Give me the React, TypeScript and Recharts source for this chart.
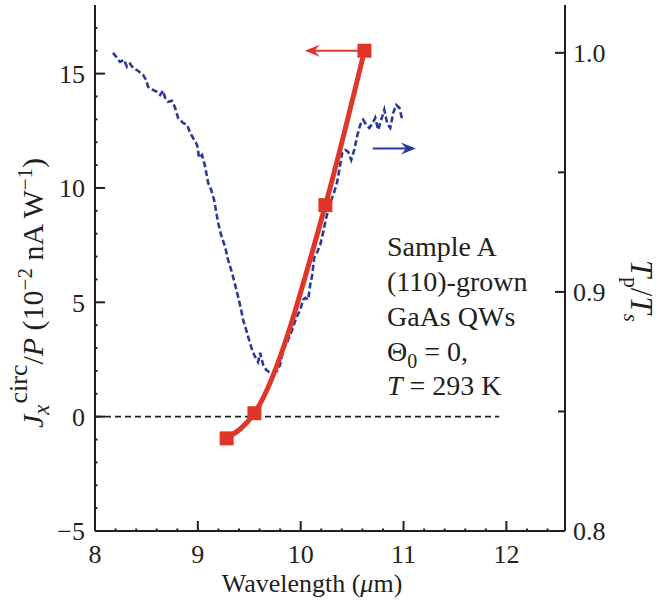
import React from "react";
import {
  ComposedChart,
  Line,
  XAxis,
  YAxis,
  ReferenceLine,
} from "recharts";

const ink = "#231f20";
const red = "#e0362a";
const blue = "#2b3a9a";
const serif = "'Liberation Serif', 'Times New Roman', serif";

// photocurrent points (left axis)
const jWavelength = [9.28, 9.55, 10.24, 10.62];
const jValue = [-0.95, 0.15, 9.25, 16.0];

// transmission ratio trace (right axis)
const tWavelength = [
  8.175, 8.214, 8.243, 8.282, 8.311, 8.341, 8.37, 8.418, 8.467, 8.496, 8.516, 8.564, 8.603, 8.633,
  8.662, 8.681, 8.71, 8.749, 8.779, 8.808, 8.856, 8.895, 8.925, 8.964, 8.993, 9.012, 9.041, 9.071,
  9.1, 9.129, 9.158, 9.197, 9.226, 9.265, 9.294, 9.333, 9.363, 9.392, 9.421, 9.44, 9.47, 9.489,
  9.528, 9.557, 9.586, 9.606, 9.635, 9.664, 9.693, 9.732, 9.771, 9.8, 9.83, 9.869, 9.917, 9.956,
  9.995, 10.024, 10.044, 10.073, 10.092, 10.112, 10.131, 10.161, 10.19, 10.219, 10.248, 10.287,
  10.326, 10.355, 10.384, 10.404, 10.433, 10.462, 10.491, 10.521, 10.55, 10.579, 10.608, 10.637,
  10.667, 10.696, 10.725, 10.754, 10.783, 10.813, 10.842, 10.871, 10.9, 10.929, 10.959, 10.988,
];
const tRatio = [
  1.0, 0.9979, 0.9962, 0.9971, 0.9941, 0.9954, 0.9937, 0.9925, 0.9908, 0.9887, 0.9858, 0.9845, 0.9837, 0.9824,
  0.9842, 0.9812, 0.9795, 0.9799, 0.977, 0.9728, 0.9707, 0.9699, 0.9665, 0.9636, 0.9615, 0.9561, 0.9573, 0.9523,
  0.9456, 0.9427, 0.9385, 0.9289, 0.9238, 0.9188, 0.9134, 0.9079, 0.9029, 0.8979, 0.8925, 0.8883, 0.8841, 0.8812,
  0.8757, 0.8728, 0.8707, 0.8745, 0.8695, 0.8674, 0.8665, 0.8661, 0.8669, 0.8695, 0.8757, 0.8791, 0.8841, 0.8891,
  0.8925, 0.8967, 0.8975, 0.8967, 0.9029, 0.9071, 0.9142, 0.9167, 0.9197, 0.9251, 0.931, 0.9372,
  0.9418, 0.946, 0.9531, 0.9582, 0.9594, 0.9586, 0.9552, 0.9594, 0.9653, 0.9699, 0.972, 0.9699,
  0.9686, 0.9703, 0.9728, 0.9678, 0.972, 0.9762, 0.9703, 0.9686, 0.9749, 0.9782, 0.977, 0.972,
];

const xTicks = [8, 8.2, 8.4, 8.6, 8.8, 9, 9.2, 9.4, 9.6, 9.8, 10, 10.2, 10.4, 10.6, 10.8, 11, 11.2, 11.4, 11.6, 11.8, 12, 12.2, 12.4];
const leftTicks = [-5, -4, -3, -2, -1, 0, 1, 2, 3, 4, 5, 6, 7, 8, 9, 10, 11, 12, 13, 14, 15, 16, 17];
const rightTicks = [0.8, 0.85, 0.9, 0.95, 1.0];

const jData = jWavelength.map((x, i) => ({ x, j: jValue[i] }));
const tData = tWavelength.map((x, i) => ({ x, t: tRatio[i] }));

const isInt = (v: number) => Math.abs(v - Math.round(v)) < 1e-6;

const tickText = { fontFamily: serif, fontSize: 26, fill: ink };

const BottomTick = ({ x, y, payload }: any) => {
  const major = isInt(payload.value);
  return (
    <g>
      <line x1={x} x2={x} y1={y} y2={y - (major ? 10 : 2.5)} stroke={ink} strokeWidth={2} />
      {major && (
        <text x={x} y={y + 32} textAnchor="middle" {...tickText}>
          {Math.round(payload.value)}
        </text>
      )}
    </g>
  );
};

const TopTick = ({ x, y }: any) => (
  <line x1={x} x2={x} y1={y} y2={y + 2.5} stroke={ink} strokeWidth={2} />
);

const LeftTick = ({ x, y, payload }: any) => {
  const v = payload.value;
  const major = v % 5 === 0;
  return (
    <g>
      <line x1={x} x2={x + (major ? 10 : 2.5)} y1={y} y2={y} stroke={ink} strokeWidth={2} />
      {major && (
        <text x={x - 10} y={y} dy="0.36em" textAnchor="end" {...tickText}>
          {v < 0 ? `\u2212${-v}` : v}
        </text>
      )}
    </g>
  );
};

const RightTick = ({ x, y, payload }: any) => {
  const v = payload.value;
  const major = Math.abs(v * 10 - Math.round(v * 10)) < 1e-6;
  return (
    <g>
      <line x1={x} x2={x - (major ? 10 : 7)} y1={y} y2={y} stroke={ink} strokeWidth={2} />
      {major && (
        <text x={x + 8} y={y} dy="0.36em" textAnchor="start" {...tickText}>
          {v.toFixed(1)}
        </text>
      )}
    </g>
  );
};

const SquareDot = ({ cx, cy }: any) => (
  <rect x={cx - 7} y={cy - 7} width={14} height={14} fill={red} />
);

const arrowShape = (color: string) => (props: any) => {
  const { x1, y1, x2, y2 } = props;
  const dir = x2 > x1 ? 1 : -1;
  const len = 15;
  return (
    <g>
      <line x1={x1} y1={y1} x2={x2 - dir * len * 0.6} y2={y2} stroke={color} strokeWidth={2} />
      <polygon
        points={`${x2},${y2} ${x2 - dir * len},${y2 - 6} ${x2 - dir * len * 0.65},${y2} ${x2 - dir * len},${y2 + 6}`}
        fill={color}
      />
    </g>
  );
};

const labelStyle = { fontFamily: serif, fontSize: 26, fill: ink };
const noteStyle = { fontFamily: serif, fontSize: 28, fill: ink };

function Labels() {
  return (
    <svg
      width={658}
      height={606}
      style={{ position: "absolute", left: 0, top: 0, pointerEvents: "none" }}
    >
      {/* left axis title */}
      <text transform="translate(43,293) rotate(-90)" textAnchor="middle" fontFamily={serif} fontSize={30} fill={ink}>
        <tspan fontStyle="italic">J</tspan>
        <tspan fontStyle="italic" fontSize={23} dy={6}>x</tspan>
        <tspan fontSize={26} dy={-22} dx={1}>circ</tspan>
        <tspan dy={16}>/</tspan>
        <tspan fontStyle="italic">P</tspan>
        <tspan> (10</tspan>
        <tspan fontSize={21} dy={-11}>{"\u22122"}</tspan>
        <tspan dy={11}> nA W</tspan>
        <tspan fontSize={21} dy={-11}>{"\u22121"}</tspan>
        <tspan dy={11}>)</tspan>
      </text>
      {/* right axis title */}
      <text transform="translate(631,291) rotate(90)" textAnchor="middle" fontFamily={serif} fontSize={31} fill={ink}>
        <tspan fontStyle="italic">T</tspan>
        <tspan fontSize={21} dy={7}>p</tspan>
        <tspan dy={-7}>/</tspan>
        <tspan fontStyle="italic">T</tspan>
        <tspan fontStyle="italic" fontSize={21} dy={7}>s</tspan>
      </text>
      {/* x axis title */}
      <text x={312} y={592} textAnchor="middle" {...labelStyle}>
        Wavelength (<tspan fontStyle="italic">{"\u03bc"}</tspan>m)
      </text>
      {/* sample annotation */}
      <g {...noteStyle}>
        <text x={387} y={256}>Sample A</text>
        <text x={387} y={291}>(110)-grown</text>
        <text x={387} y={326}>GaAs QWs</text>
        <text x={387} y={361}>
          {"\u0398"}
          <tspan fontSize={20} dy={7}>0</tspan>
          <tspan dy={-7}> = 0,</tspan>
        </text>
        <text x={387} y={395}>
          <tspan fontStyle="italic">T</tspan> = 293 K
        </text>
      </g>
    </svg>
  );
}

export default function App() {
  return (
    <div style={{ position: "absolute", left: 0, top: 0, width: 658, height: 606, background: "#fff" }}>
      <ComposedChart width={658} height={606} margin={{ top: 5, right: 0, bottom: 0, left: 0 }}>
        <XAxis
          xAxisId="bottom"
          dataKey="x"
          type="number"
          domain={[8, 12.57]}
          ticks={xTicks}
          allowDataOverflow
          height={75}
          tickSize={0}
          tickMargin={0}
          axisLine={{ stroke: ink, strokeWidth: 2 }}
          tickLine={false}
          tick={<BottomTick />}
          interval={0}
        />
        <XAxis
          xAxisId="top"
          orientation="top"
          dataKey="x"
          type="number"
          domain={[8, 12.57]}
          ticks={xTicks}
          allowDataOverflow
          height={0}
          tickSize={0}
          tickMargin={0}
          axisLine={{ stroke: ink, strokeWidth: 2 }}
          tickLine={false}
          tick={<TopTick />}
          interval={0}
        />
        <YAxis
          yAxisId="left"
          type="number"
          domain={[-5, 18]}
          ticks={leftTicks}
          allowDataOverflow
          width={95}
          tickSize={0}
          tickMargin={0}
          axisLine={{ stroke: ink, strokeWidth: 2 }}
          tickLine={false}
          tick={<LeftTick />}
          interval={0}
        />
        <YAxis
          yAxisId="right"
          orientation="right"
          type="number"
          domain={[0.8, 1.02]}
          ticks={rightTicks}
          allowDataOverflow
          width={93}
          tickSize={0}
          tickMargin={0}
          axisLine={{ stroke: ink, strokeWidth: 2 }}
          tickLine={false}
          tick={<RightTick />}
          interval={0}
        />
        <ReferenceLine
          xAxisId="bottom"
          yAxisId="left"
          segment={[{ x: 8, y: 0 }, { x: 11.93, y: 0 }]}
          stroke={ink}
          strokeWidth={1.6}
          strokeDasharray="6 4"
        />
        <Line
          xAxisId="bottom"
          yAxisId="right"
          data={tData}
          dataKey="t"
          type="linear"
          stroke={blue}
          strokeWidth={2.6}
          strokeDasharray="6 3"
          dot={false}
          isAnimationActive={false}
        />
        <Line
          xAxisId="bottom"
          yAxisId="left"
          data={jData}
          dataKey="j"
          type="monotone"
          stroke={red}
          strokeWidth={5}
          dot={<SquareDot />}
          isAnimationActive={false}
        />
        <ReferenceLine
          xAxisId="bottom"
          yAxisId="left"
          segment={[{ x: 10.6, y: 16 }, { x: 10.04, y: 16 }]}
          shape={arrowShape(red)}
        />
        <ReferenceLine
          xAxisId="bottom"
          yAxisId="right"
          segment={[{ x: 10.7, y: 0.96 }, { x: 11.12, y: 0.96 }]}
          shape={arrowShape(blue)}
        />
      </ComposedChart>
      <Labels />
    </div>
  );
}
